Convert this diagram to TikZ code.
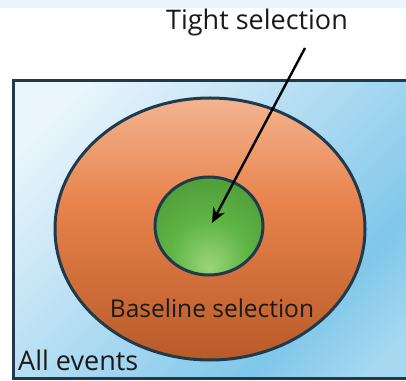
\documentclass[tikz,border=0pt]{standalone}
\usepackage{fontspec}
\setmainfont{Open Sans}
\usetikzlibrary{arrows.meta}
\definecolor{edge}{HTML}{1F3A4A}
\definecolor{bgA}{HTML}{EAF5FC}
\definecolor{bgB}{HTML}{80C7EA}
\definecolor{bgC}{HTML}{A6D8F0}
\definecolor{orA}{HTML}{F3B490}
\definecolor{orB}{HTML}{E8834C}
\definecolor{orC}{HTML}{B85A28}
\definecolor{grL}{HTML}{9DD67C}
\definecolor{grM}{HTML}{5DB444}
\definecolor{grD}{HTML}{4A9236}
\definecolor{strip}{HTML}{EAF5FB}
\definecolor{ink}{HTML}{1A1A1A}
\pgfdeclarehorizontalshading{eventsshade}{100bp}{color(0bp)=(bgA); color(22bp)=(bgA); color(68bp)=(bgB); color(80bp)=(bgC); color(100bp)=(bgC)}
\pgfdeclareverticalshading{baseshade}{100bp}{color(0bp)=(orC); color(25bp)=(orC); color(55bp)=(orB); color(75bp)=(orA); color(100bp)=(orA)}
\pgfdeclareradialshading{tightshade}{\pgfpoint{0bp}{-22bp}}{color(0bp)=(grL); color(18bp)=(grM); color(40bp)=(grD); color(50bp)=(grD)}
\tikzset{
  outline/.style={draw=edge, line width=3pt},
  label/.style={text=ink, inner sep=0pt},
  biglabel/.style={label, font=\fontsize{27}{32}\selectfont},
  midlabel/.style={label, font=\fontsize{24.5}{29}\selectfont},
  pointer/.style={draw=black, line width=2.4pt, -{Stealth[length=15pt,width=13pt]}}
}
\begin{document}
\begin{tikzpicture}[x=1pt,y=1pt]
  \useasboundingbox (0,0) rectangle (406,380);
  \clip (0,0) rectangle (406,380);
  % faint strip along the top edge
  \fill[strip] (0,372) rectangle (406,380);
  % all events
  \shade[shading=eventsshade, shading angle=-45] (13.5,1.5) rectangle (420,299.5);
  \draw[outline] (13.5,1.5) rectangle (420,299.5);
  % baseline selection
  \shade[shading=baseshade, outline] (210,151) ellipse [x radius=155, y radius=131];
  % tight selection
  \shade[shading=tightshade, outline] (209,154) ellipse [x radius=54, y radius=49];
  \coordinate (target) at (212,157);
  \node[biglabel] (tight) at (257,358) {Tight selection};
  \node[midlabel] (base) at (212,72) {Baseline selection};
  \node[biglabel, anchor=west] (all) at (18,20) {All events};
  \coordinate (start) at (305,332);
  \draw[pointer] (start) -- (target);
\end{tikzpicture}
\end{document}
